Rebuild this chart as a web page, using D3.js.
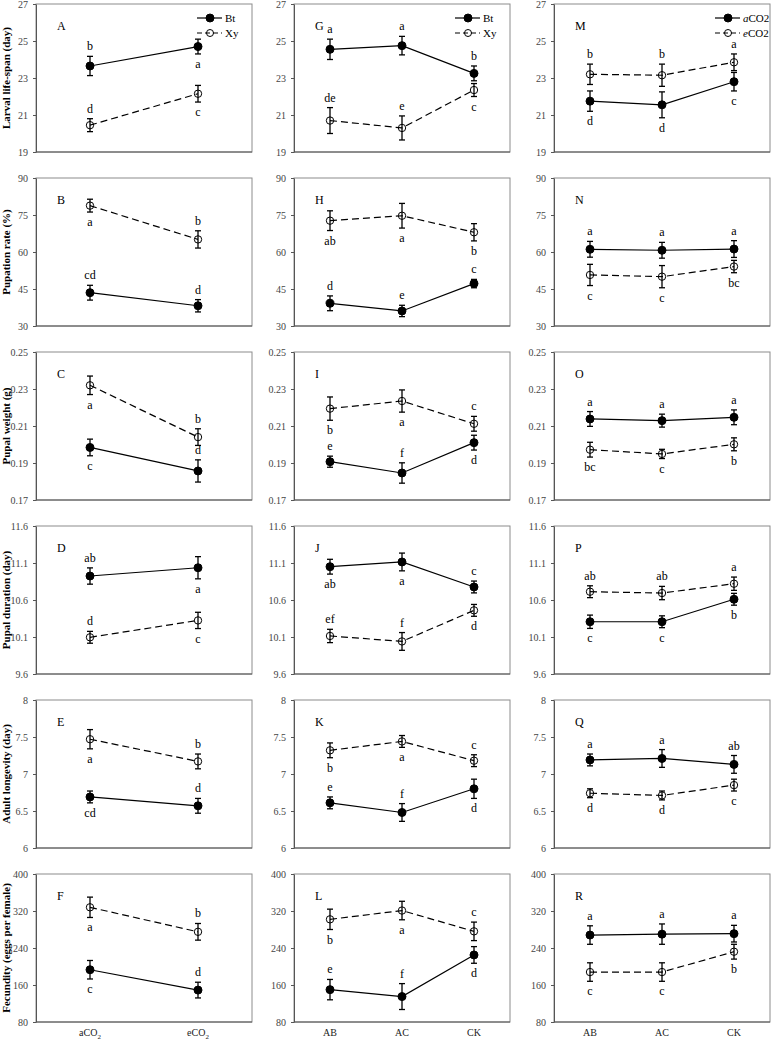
<!DOCTYPE html>
<html>
<head>
<meta charset="utf-8">
<script src="https://cdn.jsdelivr.net/npm/d3@7"></script>
<style>
  body { margin: 0; background: #fff; }
  svg text { font-family: "Liberation Serif", "Times New Roman", serif; }
</style>
</head>
<body>
<div id="chart"></div>
<script>
// categories
var co2Cats = ["aCO2", "eCO2"];
var plantCats = ["AB", "AC", "CK"];

var rowTitles = ["Larval life-span (day)", "Pupation rate (%)", "Pupal weight (g)",
                 "Pupal duration (day)", "Adult longevity (day)", "Fecundity (eggs per female)"];
var rowTicks = [[19, 21, 23, 25, 27], [30, 45, 60, 75, 90], [0.17, 0.19, 0.21, 0.23, 0.25],
                [9.6, 10.1, 10.6, 11.1, 11.6], [6, 6.5, 7, 7.5, 8], [80, 160, 240, 320, 400]];
var tickFmt = ["d", "d", ".2f", ".1f", "", "d"];
var panelNames = [["A", "B", "C", "D", "E", "F"], ["G", "H", "I", "J", "K", "L"], ["M", "N", "O", "P", "Q", "R"]];

// column 1: CO2 levels, Bt vs Xy
var c1BtMean = [[23.65, 24.7], [43.5, 38.2], [0.1984, 0.1857], [10.924, 11.036], [6.69, 6.57], [193, 149]];
var c1BtErr = [[0.52, 0.4], [3, 2.5], [0.0045, 0.006], [0.11, 0.15], [0.08, 0.1], [20, 17]];
var c1BtLet = [["b", "a"], ["cd", "d"], ["c", "d"], ["ab", "a"], ["cd", "d"], ["c", "d"]];
var c1BtSide = [["u", "d"], ["u", "u"], ["d", "u"], ["u", "d"], ["d", "u"], ["d", "u"]];
var c1XyMean = [[20.45, 22.15], [78.8, 65.1], [0.232, 0.204], [10.096, 10.324], [7.47, 7.17], [328, 275]];
var c1XyErr = [[0.35, 0.45], [2.6, 3.5], [0.005, 0.0045], [0.08, 0.11], [0.13, 0.1], [22, 18]];
var c1XyLet = [["d", "c"], ["a", "b"], ["a", "b"], ["d", "c"], ["a", "b"], ["a", "b"]];
var c1XySide = [["u", "d"], ["d", "u"], ["d", "u"], ["u", "d"], ["d", "u"], ["d", "u"]];

// column 2: plants, Bt vs Xy
var c2BtMean = [[24.55, 24.75, 23.25], [39.2, 36.1, 47.2], [0.1907, 0.1846, 0.201],
                [11.05, 11.114, 10.776], [6.61, 6.48, 6.8], [150, 135, 225]];
var c2BtErr = [[0.55, 0.5, 0.4], [3, 2.3, 1.7], [0.003, 0.0055, 0.004],
               [0.1, 0.12, 0.08], [0.08, 0.12, 0.13], [22, 28, 18]];
var c2BtLet = [["a", "a", "b"], ["d", "e", "c"], ["e", "f", "d"], ["ab", "a", "c"], ["e", "f", "d"], ["e", "f", "d"]];
var c2BtSide = [["u", "u", "u"], ["u", "u", "u"], ["u", "u", "d"], ["d", "d", "u"], ["u", "u", "d"], ["u", "u", "d"]];
var c2XyMean = [[20.7, 20.3, 22.35], [72.7, 74.7, 68], [0.2194, 0.2235, 0.2112],
                [10.114, 10.04, 10.46], [7.32, 7.44, 7.18], [302, 321, 276]];
var c2XyErr = [[0.7, 0.65, 0.35], [4, 5, 3.5], [0.0063, 0.006, 0.004],
               [0.09, 0.12, 0.08], [0.1, 0.08, 0.08], [22, 20, 20]];
var c2XyLet = [["de", "e", "c"], ["ab", "a", "b"], ["b", "a", "c"], ["ef", "f", "d"], ["b", "a", "c"], ["b", "a", "c"]];
var c2XySide = [["u", "u", "d"], ["d", "d", "d"], ["d", "d", "u"], ["u", "u", "d"], ["d", "d", "u"], ["d", "d", "u"]];

// column 3: plants, aCO2 vs eCO2
var c3AMean = [[21.75, 21.55, 22.8], [61.1, 60.7, 61.2], [0.2138, 0.2129, 0.2147],
               [10.306, 10.306, 10.61], [7.19, 7.21, 7.13], [268, 270, 271]];
var c3AErr = [[0.55, 0.7, 0.5], [3.2, 3.2, 3.4], [0.004, 0.0035, 0.004],
              [0.09, 0.08, 0.08], [0.08, 0.12, 0.12], [20, 22, 18]];
var c3ALet = [["d", "d", "c"], ["a", "a", "a"], ["a", "a", "a"], ["c", "c", "b"], ["a", "a", "ab"], ["a", "a", "a"]];
var c3ASide = [["d", "d", "d"], ["u", "u", "u"], ["u", "u", "u"], ["d", "d", "d"], ["u", "u", "u"], ["u", "u", "u"]];
var c3EMean = [[23.2, 23.15, 23.85], [50.7, 50, 54.1], [0.1972, 0.1949, 0.2001],
               [10.712, 10.694, 10.82], [6.74, 6.71, 6.85], [188, 188, 232]];
var c3EErr = [[0.55, 0.6, 0.45], [4.3, 4.5, 2.5], [0.004, 0.0025, 0.0035],
              [0.08, 0.09, 0.09], [0.06, 0.06, 0.08], [20, 20, 16]];
var c3ELet = [["b", "b", "a"], ["c", "c", "bc"], ["bc", "c", "b"], ["ab", "ab", "a"], ["d", "d", "c"], ["c", "c", "b"]];
var c3ESide = [["u", "u", "u"], ["d", "d", "d"], ["d", "d", "d"], ["u", "u", "u"], ["d", "d", "d"], ["d", "d", "d"]];

var width = 773, height = 1042;
var colLeft = [36, 294, 554];
var rowTop = [4, 178, 352, 526, 700, 874];
var pw = 216, ph = 148;
var serif = "'Liberation Serif', 'Times New Roman', serif";

var columns = [
    { cats: co2Cats, legend: ["Bt", "Xy"],
      s: [[c1BtMean, c1BtErr, c1BtLet, c1BtSide], [c1XyMean, c1XyErr, c1XyLet, c1XySide]] },
    { cats: plantCats, legend: ["Bt", "Xy"],
      s: [[c2BtMean, c2BtErr, c2BtLet, c2BtSide], [c2XyMean, c2XyErr, c2XyLet, c2XySide]] },
    { cats: plantCats, legend: ["aCO2", "eCO2"],
      s: [[c3AMean, c3AErr, c3ALet, c3ASide], [c3EMean, c3EErr, c3ELet, c3ESide]] }
];

var svg = d3.select("#chart").append("svg")
    .attr("width", width)
    .attr("height", height)
    .attr("font-family", serif);

// y titles
rowTitles.forEach(function (t, r) {
    svg.append("text")
        .attr("transform", "translate(10," + (rowTop[r] + ph / 2) + ") rotate(-90)")
        .attr("text-anchor", "middle")
        .attr("font-family", serif)
        .attr("font-size", 11)
        .attr("font-weight", "bold")
        .attr("fill", "#000")
        .text(t);
});

function co2Label(sel, s) {
    sel.append("tspan").text(s.slice(0, 3));
    sel.append("tspan").attr("font-size", "0.7em").attr("dy", 3).text("2");
}

columns.forEach(function (col, c) {
    var x = d3.scalePoint().domain(col.cats).range([0, pw]).padding(0.5);

    for (var r = 0; r < 6; r++) {
        var ticks = rowTicks[r];
        var y = d3.scaleLinear().domain([ticks[0], ticks[ticks.length - 1]]).range([ph, 0]);
        var g = svg.append("g").attr("transform", "translate(" + colLeft[c] + "," + rowTop[r] + ")");

        g.append("rect")
            .attr("width", pw).attr("height", ph)
            .attr("fill", "none")
            .attr("stroke", "#8c8c8c");

        var yAxis = g.append("g")
            .call(d3.axisLeft(y).tickValues(ticks).tickSize(3).tickSizeOuter(0).tickPadding(5)
                .tickFormat(tickFmt[r] ? d3.format(tickFmt[r]) : d3.format("")));
        yAxis.attr("font-family", serif);
        yAxis.select(".domain").attr("stroke", "#555");
        yAxis.selectAll(".tick line").attr("stroke", "#555");
        yAxis.selectAll("text")
            .attr("font-family", serif)
            .attr("font-size", 10)
            .attr("fill", "#444");
        g.append("line")
            .attr("x1", 0).attr("x2", pw).attr("y1", ph).attr("y2", ph)
            .attr("stroke", "#555");

        g.append("text")
            .attr("x", 21).attr("y", 26)
            .attr("font-family", serif)
            .attr("font-size", 12)
            .attr("fill", "#000")
            .text(panelNames[c][r]);

        col.s.forEach(function (ser, si) {
            var mean = ser[0][r], err = ser[1][r], lets = ser[2][r], side = ser[3][r];
            var pts = col.cats.map(function (k, i) {
                return { k: k, m: mean[i], e: err[i], l: lets[i], s: side[i] };
            });

            g.append("path")
                .datum(pts)
                .attr("fill", "none")
                .attr("stroke", "#000")
                .attr("stroke-width", 1.2)
                .attr("stroke-dasharray", si == 1 ? "7,4" : null)
                .attr("d", d3.line().x(d => x(d.k)).y(d => y(d.m)));

            var eb = g.append("g").selectAll("g").data(pts).enter().append("g");
            eb.append("line")
                .attr("x1", d => x(d.k)).attr("x2", d => x(d.k))
                .attr("y1", d => y(d.m - d.e)).attr("y2", d => y(d.m + d.e))
                .attr("stroke", "#000").attr("stroke-width", 1.3);
            eb.append("line")
                .attr("x1", d => x(d.k) - 3).attr("x2", d => x(d.k) + 3)
                .attr("y1", d => y(d.m - d.e)).attr("y2", d => y(d.m - d.e))
                .attr("stroke", "#000").attr("stroke-width", 1.3);
            eb.append("line")
                .attr("x1", d => x(d.k) - 3).attr("x2", d => x(d.k) + 3)
                .attr("y1", d => y(d.m + d.e)).attr("y2", d => y(d.m + d.e))
                .attr("stroke", "#000").attr("stroke-width", 1.3);
            eb.append("circle")
                .attr("cx", d => x(d.k)).attr("cy", d => y(d.m))
                .attr("r", si == 0 ? 4 : 3.7)
                .attr("fill", si == 0 ? "#000" : "none")
                .attr("stroke", "#000").attr("stroke-width", 1);
            eb.append("text")
                .attr("x", d => x(d.k))
                .attr("y", d => d.s == "u" ? y(d.m + d.e) - 6 : y(d.m - d.e) + 14)
                .attr("text-anchor", "middle")
                .attr("font-family", serif)
                .attr("font-size", 12)
                .attr("fill", "#000")
                .text(d => d.l);
        });

        // legend on top row
        if (r == 0) {
            col.legend.forEach(function (name, si) {
                var ly = 14 + si * 15;
                var lg = g.append("g").attr("transform", "translate(" + (pw - 55) + "," + ly + ")");
                lg.append("line")
                    .attr("x1", 0).attr("x2", 25).attr("y1", 0).attr("y2", 0)
                    .attr("stroke", "#000").attr("stroke-width", 1.2)
                    .attr("stroke-dasharray", si == 1 ? "5,3" : null);
                lg.append("circle")
                    .attr("cx", 13).attr("cy", 0).attr("r", si == 0 ? 4 : 3.5)
                    .attr("fill", si == 0 ? "#000" : "none")
                    .attr("stroke", "#000");
                var tx = lg.append("text").attr("x", 28).attr("y", 4)
                    .attr("font-family", serif).attr("font-size", 11).attr("fill", "#000");
                if (name.indexOf("CO2") > 0) {
                    tx.append("tspan").attr("font-style", "italic").text(name[0]);
                    tx.append("tspan").text("CO2");
                } else {
                    tx.text(name);
                }
            });
        }

        // x labels on bottom row
        if (r == 5) {
            col.cats.forEach(function (k) {
                var t = g.append("text")
                    .attr("x", x(k)).attr("y", ph + 14)
                    .attr("text-anchor", "middle")
                    .attr("font-family", serif)
                    .attr("font-size", 10)
                    .attr("fill", "#222");
                if (k.indexOf("CO2") > 0) co2Label(t, k);
                else t.text(k);
            });
        }
    }
});
</script>
</body>
</html>
